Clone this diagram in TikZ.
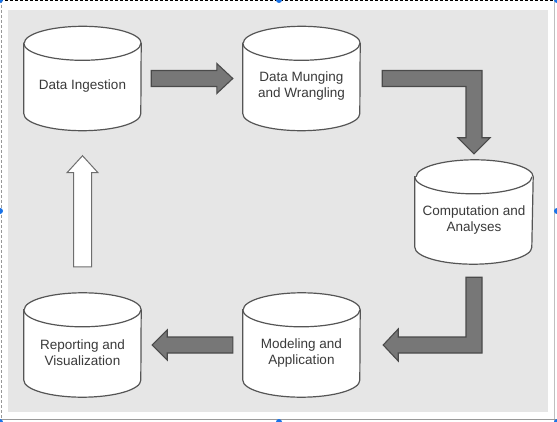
\documentclass[tikz,border=0pt]{standalone}
\usepackage{fontspec}
\setmainfont{Liberation Sans}
\usetikzlibrary{calc}
\definecolor{bggray}{HTML}{E6E6E6}
\definecolor{cylline}{HTML}{555555}
\definecolor{arrfill}{HTML}{777777}
\definecolor{arrline}{HTML}{4A4A4A}
\definecolor{txtcol}{HTML}{3A3A3A}
\definecolor{handleblue}{HTML}{1A73E8}
\newcommand{\drawdb}[1]{%
  \filldraw[dbline] ($(#1.north west)+(0,-17)$) -- ($(#1.south west)+(0,17)$)
    arc[start angle=180,end angle=360,x radius=58.5pt,y radius=17pt]
    -- ($(#1.north east)+(0,-17)$)
    arc[start angle=0,end angle=180,x radius=58.5pt,y radius=17pt] -- cycle;
  \draw[dbline] ($(#1.north west)+(0,-17)$)
    arc[start angle=180,end angle=360,x radius=58.5pt,y radius=17pt];
}
\tikzset{
  dbbox/.style={rectangle, inner sep=0pt, minimum width=117pt, minimum height=104pt},
  dbline/.style={draw=cylline, fill=white, line width=1.2pt},
  dbtext/.style={inner sep=0pt, align=center, text=txtcol,
    font=\fontsize{13.5}{16}\selectfont},
  blk/.style={draw=arrline, fill=arrfill, line width=1.1pt, line join=miter},
  whiteblk/.style={draw=arrline!80, fill=white, line width=1pt, line join=miter},
  handle/.style={fill=handleblue, draw=none}
}
\begin{document}
\begin{tikzpicture}[x=1pt,y=1pt]
\useasboundingbox (0,0) rectangle (557,-422);
% frame
\fill[bggray] (8,-10) rectangle (548,-412);
\draw[black, line width=1pt, dash pattern=on 3pt off 2pt] (0,-1) -- (557,-1);
\draw[gray!80, line width=1pt, dash pattern=on 3pt off 2pt] (1.5,0) -- (1.5,-422);
\draw[gray!50, line width=1pt] (554,0) -- (554,-422);
\draw[gray!80, line width=1pt] (0,-419.5) -- (557,-419.5);
\foreach \hx/\hy in {0/0,279/0,557/0,0/-211,557/-211,0/-422,279/-422,557/-422}
  \fill[handle] (\hx,\hy) circle (3pt);
% cylinders
\node[dbbox] (c1) at (82.5,-78.5) {};
\node[dbbox] (c2) at (301.5,-78.5) {};
\node[dbbox, minimum width=118pt] (c3) at (474,-212) {};
\node[dbbox] (c4) at (301.5,-345) {};
\node[dbbox] (c5) at (82.5,-345) {};
\drawdb{c1}\drawdb{c2}\drawdb{c3}\drawdb{c4}\drawdb{c5}
\node[dbtext] (t1) at ($(c1)+(0,-8)$) {Data Ingestion};
\node[dbtext] (t2) at ($(c2)+(0,-8)$) {Data Munging\\and Wrangling};
\node[dbtext] (t3) at ($(c3)+(0,-8)$) {Computation and\\Analyses};
\node[dbtext] (t4) at ($(c4)+(0,-8)$) {Modeling and\\Application};
\node[dbtext] (t5) at ($(c5)+(0,-8)$) {Reporting and\\Visualization};
% arrow c1 -> c2
\draw[blk] ($(c1.east)+(10,8)$) -- ($(c2.west)+(-26,8)$) -- ($(c2.west)+(-26,15)$)
  -- ($(c2.west)+(-10,0)$) -- ($(c2.west)+(-26,-15)$) -- ($(c2.west)+(-26,-8)$)
  -- ($(c1.east)+(10,-8)$) -- cycle;
% arrow c2 -> c3 (L shape)
\draw[blk] ($(c2.east)+(22,8)$) -- ($(c2 -| c3)+(8,8)$) -- ($(c3.north)+(8,22)$)
  -- ($(c3.north)+(16,22)$) -- ($(c3.north)+(0,6)$) -- ($(c3.north)+(-16,22)$)
  -- ($(c3.north)+(-8,22)$) -- ($(c2 -| c3)+(-8,-8)$) -- ($(c2.east)+(22,-8)$) -- cycle;
% arrow c3 -> c4 (L shape)
\draw[blk] ($(c3.south)+(-8,-13)$) -- ($(c3.south)+(8,-13)$) -- ($(c3 |- c4)+(8,-8)$)
  -- ($(c4.east)+(38,-8)$) -- ($(c4.east)+(38,-16)$) -- ($(c4.east)+(23,0)$)
  -- ($(c4.east)+(38,16)$) -- ($(c4.east)+(38,8)$) -- ($(c3 |- c4)+(-8,8)$) -- cycle;
% arrow c4 -> c5
\draw[blk] ($(c4.west)+(-10,8)$) -- ($(c5.east)+(26,8)$) -- ($(c5.east)+(26,15)$)
  -- ($(c5.east)+(11,0)$) -- ($(c5.east)+(26,-15)$) -- ($(c5.east)+(26,-8)$)
  -- ($(c4.west)+(-10,-8)$) -- cycle;
% arrow c5 -> c1 (white)
\draw[whiteblk] ($(c5.north)+(-9,26)$) -- ($(c1.south)+(-9,-42)$) -- ($(c1.south)+(-15.5,-42)$)
  -- ($(c1.south)+(0,-25)$) -- ($(c1.south)+(15.5,-42)$) -- ($(c1.south)+(9,-42)$)
  -- ($(c5.north)+(9,26)$) -- cycle;
\end{tikzpicture}
\end{document}
